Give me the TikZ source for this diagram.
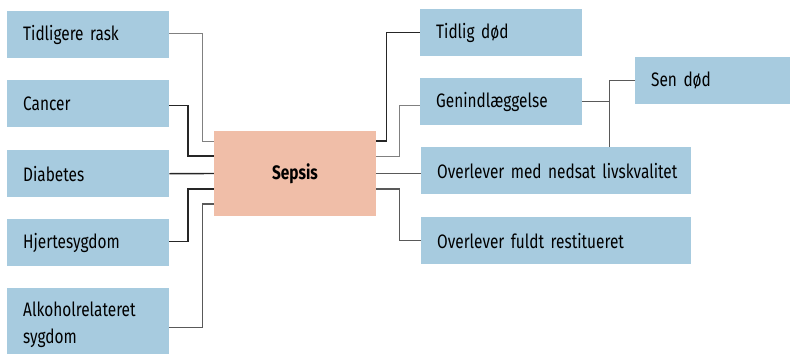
\documentclass[tikz,border=0pt]{standalone}
\usepackage{fontspec}
\setmainfont[FakeStretch=0.79]{Fira Sans}
\usepackage{tikz}
\usetikzlibrary{calc}
\definecolor{feltblaa}{RGB}{167,203,223}
\definecolor{sepsisrosa}{RGB}{240,190,168}
\tikzset{
  felt/.style={fill=feltblaa, anchor=north west, minimum height=47pt, inner xsep=16pt,
    text width=130pt, align=left, font=\fontsize{19.5}{27}\selectfont},
  bredt/.style={felt, text width=238pt},
  tyk/.style={line width=1.4pt, black!85},
  mellem/.style={line width=1.1pt, black!65},
  tynd/.style={line width=1pt, black!50}
}

\begin{document}
\begin{tikzpicture}[x=1pt,y=-1pt]
  \useasboundingbox (0,0) rectangle (790,354);

  % venstre side
  \node[felt] (rask) at (7,11) {Tidligere rask};
  \node[felt] (cancer) at (7,80) {Cancer};
  \node[felt] (diabetes) at (7,150) {Diabetes};
  \node[felt] (hjerte) at (7,219) {Hjertesygdom};
  \node[felt, minimum height=66pt] (alkohol) at (7,288) {};
  \node[anchor=north west, align=left, inner sep=0pt, font=\fontsize{19.5}{27}\selectfont]
    (alkoholtekst) at (23,302) {Alkoholrelateret\\sygdom};

  \node[fill=sepsisrosa, minimum width=162pt, minimum height=85pt,
    font=\fontsize{19.5}{27}\selectfont\bfseries] (sepsis) at (295,173.5) {Sepsis};

  % hoejre side
  \node[felt] (tidlig) at (420,9) {Tidlig død};
  \node[felt] (genind) at (420,78) {Genindlæggelse};
  \node[bredt] (nedsat) at (421,147) {\mbox{Overlever med nedsat livskvalitet}};
  \node[bredt] (fuldt) at (421,217) {Overlever fuldt restitueret};
  \node[felt, text width=123pt] (sendod) at (635,57) {Sen død};

  % forbindelser ind
  \draw[tynd] ([yshift=1.5pt]rask.east) -| ([xshift=-11.5pt,yshift=32.5pt]sepsis.west)
    -- ([yshift=32.5pt]sepsis.west);
  \draw[tyk] ([yshift=-1.5pt]cancer.east) -| ([xshift=-26pt,yshift=17.5pt]sepsis.west)
    -- ([yshift=17.5pt]sepsis.west);
  \draw[tyk] (diabetes.east) -- (sepsis.west);
  \draw[tyk] ([yshift=1.5pt]hjerte.east) -| ([xshift=-26pt,yshift=-15.5pt]sepsis.west)
    -- ([yshift=-15.5pt]sepsis.west);
  \draw[mellem] ([yshift=-6pt]alkohol.east) -| ([xshift=-11.5pt,yshift=-30.5pt]sepsis.west)
    -- ([yshift=-30.5pt]sepsis.west);

  % forbindelser ud
  \draw[tyk] ([yshift=32.5pt]sepsis.east) -- ([xshift=10pt,yshift=32.5pt]sepsis.east)
    |- (tidlig.west);
  \draw[tynd] ([yshift=17.5pt]sepsis.east) -- ([xshift=23pt,yshift=17.5pt]sepsis.east)
    |- ([yshift=-3.5pt]genind.west);
  \draw[mellem] (sepsis.east) -- (sepsis.east -| nedsat.west);
  \draw[mellem] ([yshift=-15.5pt]sepsis.east) -- ([xshift=23pt,yshift=-15.5pt]sepsis.east)
    |- (fuldt.west);

  \coordinate (gren) at ($(genind.east)+(27,0)$);
  \draw[mellem] (genind.east) -- (gren);
  \draw[mellem] (sendod.west) -| (gren |- nedsat.north);

\end{tikzpicture}
\end{document}
